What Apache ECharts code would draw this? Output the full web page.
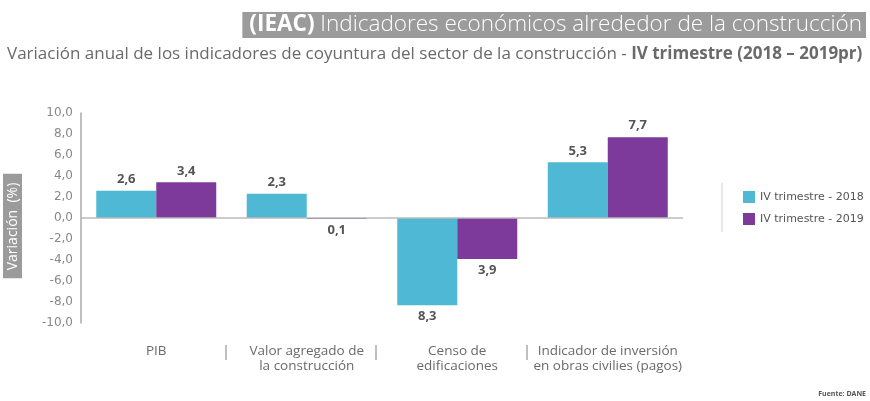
<!DOCTYPE html>
<html>
<head>
<meta charset="utf-8">
<script src="https://cdn.jsdelivr.net/npm/echarts@6/dist/echarts.min.js"></script>
<style>
  html, body { margin: 0; padding: 0; background: #fff; }
  #chart { width: 870px; height: 401px; }
</style>
</head>
<body>
<div id="chart"></div>
<script>
  // categorias y valores
  const categorias = [
    'PIB',
    'Valor agregado de\nla construcción',
    'Censo de\nedificaciones',
    'Indicador de inversión\nen obras civilies (pagos)'
  ];
  const serie2018 = [2.6, 2.3, -8.3, 5.3];
  const serie2019 = [3.4, -0.1, -3.9, 7.7];
  const nombres = ['IV trimestre - 2018', 'IV trimestre - 2019'];
  const separadores = [0.96, 1.96, 2.96];

  const colores = ['#4fb8d5', '#7d3a9a'];
  const fuente = 'Open Sans';
  const fuenteAncha = 'DejaVu Sans';

  const coma = v => v.toFixed(1).replace('.', ',');

  function datos(valores) {
    return valores.map(v => ({
      value: v,
      label: { position: v < 0 ? 'bottom' : 'top' }
    }));
  }

  const chart = echarts.init(document.getElementById('chart'));
  const option = {
    animation: false,
    textStyle: { fontFamily: fuente },
    title: [
      {
        text: '{b|(IEAC)} Indicadores económicos alrededor de la construcción',
        right: 4,
        top: 12,
        padding: [0, 4, 0, 7],
        backgroundColor: '#9b9b9b',
        textStyle: {
          color: '#fff', fontSize: 22.5, fontWeight: 300, fontFamily: fuente, lineHeight: 26,
          rich: { b: { color: '#fff', fontSize: 22.5, fontWeight: 'bold', fontFamily: fuente, lineHeight: 26 } }
        }
      },
      {
        text: 'Variación anual de los indicadores de coyuntura del sector de la construcción - {b|IV trimestre (2018 – 2019pr)}',
        left: 7,
        top: 46,
        padding: 0,
        textStyle: {
          color: '#6a6a6a', fontSize: 17, fontWeight: 'normal', fontFamily: fuente,
          rich: { b: { color: '#6a6a6a', fontSize: 17, fontWeight: 'bold', fontFamily: fuente } }
        }
      },
      {
        text: 'Fuente: DANE',
        right: 4,
        bottom: 4,
        padding: 0,
        textStyle: { color: '#555', fontSize: 7, fontWeight: 'bold', fontFamily: fuente }
      }
    ],
    legend: {
      orient: 'vertical',
      left: 738,
      top: 186,
      icon: 'rect',
      itemWidth: 12,
      itemHeight: 12,
      itemGap: 10,
      textStyle: { color: '#555', fontSize: 11, fontFamily: fuenteAncha },
      data: nombres
    },
    graphic: [
      {
        type: 'line',
        shape: { x1: 722, y1: 183, x2: 722, y2: 232 },
        style: { stroke: '#e2e2e2', lineWidth: 1.5 }
      }
    ],
    grid: { left: 81, right: 187, top: 113, bottom: 78, containLabel: false, outerBoundsMode: 'none' },
    xAxis: [
      {
        type: 'category',
        data: categorias,
        position: 'bottom',
        axisLine: { show: false, onZero: false },
        axisTick: { show: false },
        axisLabel: {
          margin: 21,
          color: '#6a6a6a',
          fontSize: 13.5,
          lineHeight: 15,
          verticalAlign: 'top',
          interval: 0
        }
      },
      {
        type: 'value',
        min: 0,
        max: 4,
        position: 'bottom',
        offset: 22,
        splitLine: { show: false },
        axisLine: { show: false, onZero: false },
        axisLabel: { show: false },
        axisTick: {
          show: true,
          customValues: separadores,
          length: 15,
          lineStyle: { color: '#aaa', width: 1.5 }
        }
      }
    ],
    yAxis: {
      type: 'value',
      min: -10,
      max: 10,
      interval: 2,
      // el espacio final empuja la caja gris hacia abajo
      name: '{a|Variación  (%)}{gap|}',
      nameLocation: 'middle',
      nameRotate: 90,
      nameGap: 59,
      nameTextStyle: {
        rich: {
          a: {
            color: '#fff',
            fontSize: 14,
            fontFamily: fuente,
            backgroundColor: '#9b9b9b',
            padding: [3, 9, 2, 8]
          },
          gap: { width: 16 }
        }
      },
      axisLine: { show: true, lineStyle: { color: '#aaa', width: 1.5 } },
      axisTick: { show: false },
      splitLine: { show: false },
      axisLabel: { color: '#888', fontSize: 12, fontFamily: fuenteAncha, margin: 8, formatter: v => coma(v) }
    },
    series: [
      {
        name: nombres[0],
        type: 'bar',
        data: datos(serie2018),
        barWidth: 60,
        barGap: '0%',
        itemStyle: { color: colores[0] },
        label: {
          show: true,
          distance: 5,
          color: '#555',
          fontSize: 13,
          fontWeight: 'bold',
          formatter: p => coma(Math.abs(p.value))
        },
        markLine: {
          silent: true,
          symbol: 'none',
          label: { show: false },
          lineStyle: { color: '#bbb', type: 'solid', width: 1.5 },
          data: [{ yAxis: 0 }]
        }
      },
      {
        name: nombres[1],
        type: 'bar',
        data: datos(serie2019),
        barWidth: 60,
        barGap: '0%',
        itemStyle: { color: colores[1] },
        label: {
          show: true,
          distance: 5,
          color: '#555',
          fontSize: 13,
          fontWeight: 'bold',
          formatter: p => coma(Math.abs(p.value))
        }
      }
    ]
  };
  chart.setOption(option);
</script>
</body>
</html>
